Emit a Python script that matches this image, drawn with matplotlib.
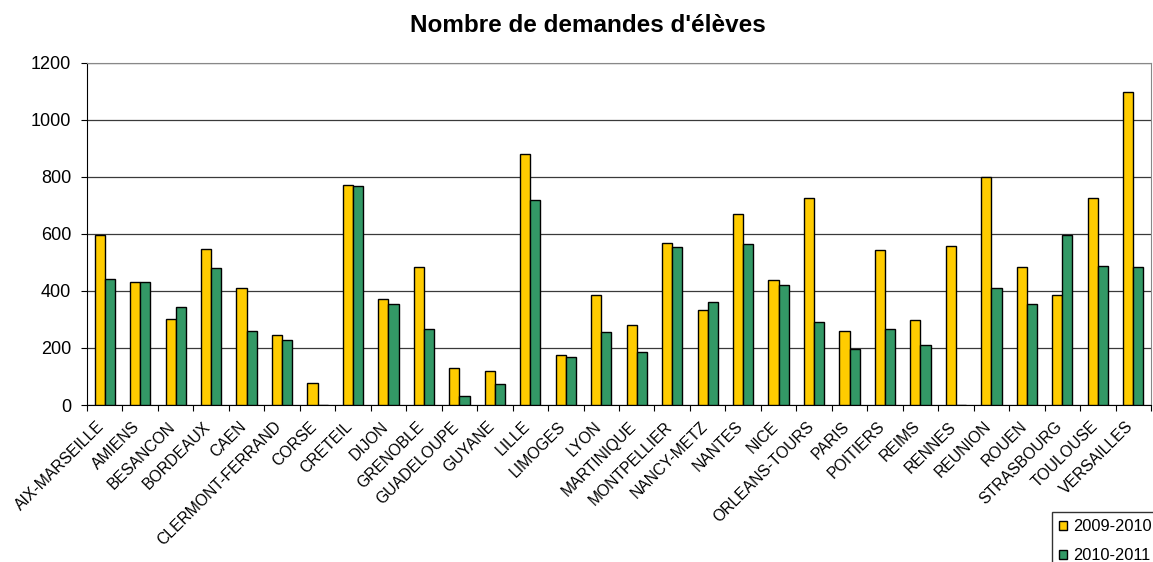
import numpy as np
import matplotlib
matplotlib.use("Agg")
import matplotlib.pyplot as plt
from matplotlib.transforms import ScaledTranslation

plt.rcParams['font.family'] = ['Liberation Sans', 'DejaVu Sans']

academies = ['AIX-MARSEILLE', 'AMIENS', 'BESANCON', 'BORDEAUX', 'CAEN',
             'CLERMONT-FERRAND', 'CORSE', 'CRETEIL', 'DIJON', 'GRENOBLE',
             'GUADELOUPE', 'GUYANE', 'LILLE', 'LIMOGES', 'LYON', 'MARTINIQUE',
             'MONTPELLIER', 'NANCY-METZ', 'NANTES', 'NICE', 'ORLEANS-TOURS',
             'PARIS', 'POITIERS', 'REIMS', 'RENNES', 'REUNION', 'ROUEN',
             'STRASBOURG', 'TOULOUSE', 'VERSAILLES']
y2009 = [598, 431, 303, 548, 410, 244, 78, 773, 373, 485,
         131, 120, 879, 174, 387, 281, 570, 335, 671, 437,
         725, 260, 543, 299, 558, 800, 485, 387, 725, 1098]
y2010 = [442, 431, 345, 479, 260, 228, 0, 768, 356, 266,
         30, 74, 719, 170, 255, 185, 554, 362, 564, 420,
         291, 196, 266, 212, 0, 410, 356, 598, 489, 485]
series_names = ['2009-2010', '2010-2011']

fig = plt.figure(figsize=(11.53, 5.62), dpi=100)
ax = fig.add_axes([87/1153, 1 - 405/562, (1151-87)/1153, (405-63)/562])

x = np.arange(len(academies))
w = 0.286
ax.bar(x - w/2, y2009, w, color='#FFCC00', edgecolor='black', linewidth=1, label=series_names[0], zorder=3)
ax.bar(x + w/2, y2010, w, color='#339966', edgecolor='black', linewidth=1, label=series_names[1], zorder=3)

ax.set_xlim(-0.5, len(academies) - 0.5)
ax.set_ylim(0, 1200)
ax.set_yticks(range(0, 1201, 200))
ax.yaxis.grid(True, color='#3a3a3a', linewidth=0.9, zorder=0)
ax.tick_params(axis='y', labelsize=13, length=4.5, color='black', pad=7)

# ticks at category boundaries, labels at centres
ax.set_xticks(np.arange(-0.5, len(academies), 1.0))
ax.set_xticklabels([])
ax.tick_params(axis='x', which='major', length=4.5, color='black')
ax.set_xticks(x, minor=True)
ax.set_xticklabels(academies, minor=True, rotation=45, ha='right', va='top',
                   rotation_mode='anchor', fontsize=11.3)
ax.tick_params(axis='x', which='minor', length=0, pad=10)
off = ScaledTranslation(-8/100, 0, fig.dpi_scale_trans)
for lab in ax.get_xticklabels(minor=True):
    lab.set_transform(lab.get_transform() + off)

for s in ['left', 'bottom']:
    ax.spines[s].set_color('black')
for s in ['top', 'right']:
    ax.spines[s].set_color('#888888')

fig.text(0.51, 1 - 32/562, "Nombre de demandes d'élèves", ha='center', va='baseline',
         fontsize=17.5, fontweight='bold')

leg = fig.legend(loc='upper left', bbox_to_anchor=(1052/1153, 1 - 512/562),
                 fontsize=11.8, frameon=True, fancybox=False, edgecolor='black',
                 handlelength=0.45, handleheight=0.45, labelspacing=0.85,
                 borderpad=0.45, handletextpad=0.4, borderaxespad=0)
leg.get_frame().set_linewidth(1)

fig.savefig('out.png', dpi=100)
